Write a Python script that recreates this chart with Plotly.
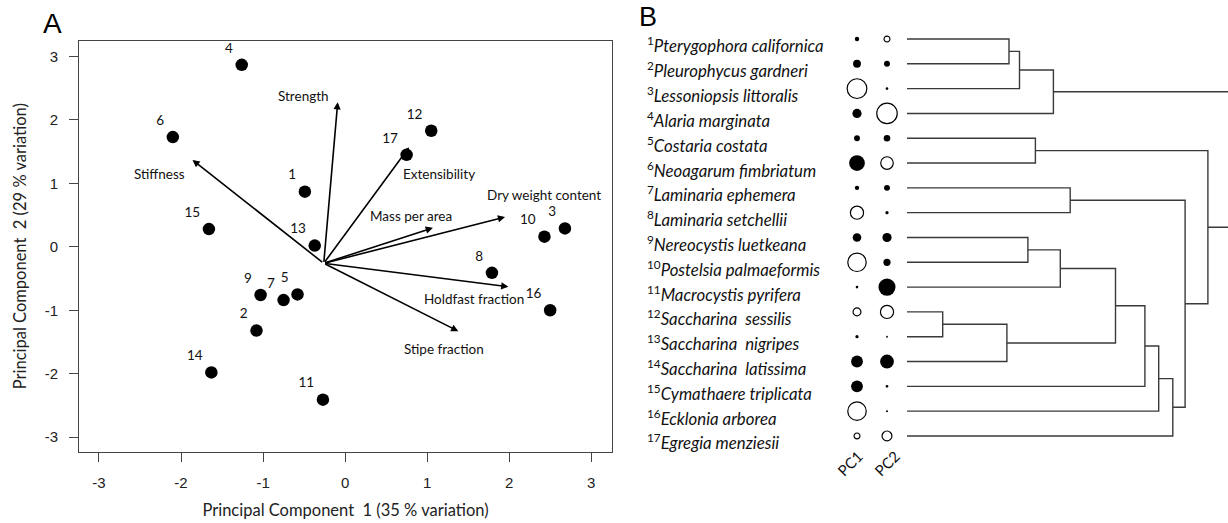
import plotly.graph_objects as go

# ---------------- Panel A: PCA biplot ----------------
species_ids = [str(i) for i in range(1, 18)]
pc1_scores = [-0.49, -1.08, 2.68, -1.26, -0.58, -2.10, -0.75, 1.79, -1.03,
              2.43, -0.27, 1.05, -0.37, -1.63, -1.66, 2.50, 0.75]
pc2_scores = [0.87, -1.32, 0.29, 2.87, -0.75, 1.73, -0.84, -0.41, -0.76,
              0.16, -2.41, 1.83, 0.02, -1.98, 0.28, -1.00, 1.45]

traits = ["Strength", "Stiffness", "Extensibility", "Mass per area",
          "Dry weight content", "Holdfast fraction", "Stipe fraction"]
arrow_origin = (-0.26, -0.26)
arrow_tip_x = [-0.09, -1.86, 0.78, 1.07, 1.95, 1.99, 1.38]
arrow_tip_y = [2.28, 1.37, 1.57, 0.30, 0.47, -0.63, -1.33]
trait_label_x = [-0.51, -2.26, 1.15, 0.80, 2.42, 1.57, 1.21]
trait_label_y = [2.38, 1.15, 1.15, 0.49, 0.81, -0.82, -1.61]

x_ticks = [-3, -2, -1, 0, 1, 2, 3]
y_ticks = [-3, -2, -1, 0, 1, 2, 3]

# ---------------- Panel B: species, PC bubbles, dendrogram ----------------
species_names = [
    "Pterygophora californica", "Pleurophycus gardneri", "Lessoniopsis littoralis",
    "Alaria marginata", "Costaria costata", "Neoagarum fimbriatum",
    "Laminaria ephemera", "Laminaria setchellii", "Nereocystis luetkeana",
    "Postelsia palmaeformis", "Macrocystis pyrifera", "Saccharina\u00a0 sessilis",
    "Saccharina\u00a0 nigripes", "Saccharina\u00a0 latissima", "Cymathaere triplicata",
    "Ecklonia arborea", "Egregia menziesii",
]
# signed bubble values (negative = filled, positive = open)
pc1_bubble = [-0.60, -1.08, 2.70, -1.26, -0.80, -2.16, -0.60, 1.80, -1.18,
              2.53, -0.36, 1.08, -0.45, -1.62, -1.62, 2.53, 0.81]
pc2_bubble = [0.81, -0.81, -0.36, 2.80, -0.90, 1.72, -0.81, -0.45, -1.26,
              -0.99, -2.34, 1.80, 0.10, -1.89, -0.36, -0.27, 1.35]
bubble_columns = ["PC1", "PC2"]

# linkage: (child_a, child_b, height); leaves are 1..17, new nodes numbered from 18
linkage = [
    (12, 13, 0.119),
    (1, 2, 0.340),
    (18, 14, 0.333),
    (19, 3, 0.375),
    (9, 10, 0.403),
    (5, 6, 0.428),
    (21, 4, 0.488),
    (22, 11, 0.511),
    (7, 8, 0.544),
    (25, 20, 0.695),
    (27, 15, 0.793),
    (28, 16, 0.839),
    (29, 17, 0.886),
    (26, 30, 0.927),
    (23, 31, 1.003),
    (24, 32, 1.100),
]

W, H = 1228, 523


def px(x):
    return x / W


def py(y):
    return 1 - y / H


LINE = "#3a3a3a"
fig = go.Figure()

# trait loading arrows
annotations = []
for tx, ty in zip(arrow_tip_x, arrow_tip_y):
    annotations.append(dict(
        x=tx, y=ty, ax=arrow_origin[0], ay=arrow_origin[1],
        xref="x", yref="y", axref="x", ayref="y", text="",
        showarrow=True, arrowhead=2, arrowsize=0.9, arrowwidth=1.6,
        arrowcolor="black", standoff=0,
    ))
for name, lx, ly in zip(traits, trait_label_x, trait_label_y):
    annotations.append(dict(
        x=lx, y=ly, xref="x", yref="y", text=name, showarrow=False,
        font=dict(family="Lato", size=13.5, color="#111"),
        xanchor="center", yanchor="middle",
    ))

# species scores
fig.add_trace(go.Scatter(
    x=pc1_scores, y=pc2_scores, mode="markers+text", text=species_ids,
    textposition="top left", textfont=dict(family="Lato", size=13.5, color="#111"),
    marker=dict(size=12.5, color="black", opacity=1), xaxis="x", yaxis="y",
    hoverinfo="skip", showlegend=False, cliponaxis=False,
))

# dendrogram
n_leaves = len(species_names)
node_y = {i: float(i) for i in range(1, n_leaves + 1)}
node_h = {i: 0.0 for i in range(1, n_leaves + 1)}
dx, dy = [], []
for k, (a, b, h) in enumerate(linkage):
    nid = n_leaves + 1 + k
    dx += [node_h[a], h, h, node_h[b], None]
    dy += [node_y[a], node_y[a], node_y[b], node_y[b], None]
    node_y[nid] = (node_y[a] + node_y[b]) / 2
    node_h[nid] = h
fig.add_trace(go.Scatter(
    x=dx, y=dy, mode="lines", line=dict(color=LINE, width=1.4),
    xaxis="x2", yaxis="y2", hoverinfo="skip", showlegend=False,
))

# PC bubbles
rows = list(range(1, n_leaves + 1))
for col, vals in enumerate([pc1_bubble, pc2_bubble]):
    sizes = [abs(v) * 7.3 for v in vals]
    fills = ["black" if v < 0 else "white" for v in vals]
    lines = [0 if v < 0 else 1.2 for v in vals]
    fig.add_trace(go.Scatter(
        x=[col] * n_leaves, y=rows, mode="markers",
        marker=dict(size=sizes, color=fills, opacity=1,
                    line=dict(color="black", width=lines)),
        xaxis="x3", yaxis="y2", hoverinfo="skip", showlegend=False,
    ))

# species labels
for i, name in enumerate(species_names, start=1):
    annotations.append(dict(
        x=px(645), y=i, xref="paper", yref="y2", yshift=-6,
        text=f"<sup>{i}</sup><i>{name}</i>", showarrow=False,
        font=dict(family="Lato", size=16.8, color="#111"),
        xanchor="left", yanchor="middle",
    ))

# column labels
for col, (lab, shift) in enumerate(zip(bubble_columns, [-7, 0])):
    annotations.append(dict(
        x=col, y=py(463), xref="x3", yref="paper", xshift=shift,
        text=lab, showarrow=False, textangle=-45,
        font=dict(family="Lato", size=15, color="#111"),
        xanchor="center", yanchor="middle",
    ))

# panel letters
annotations.append(dict(x=px(52), y=py(23), xref="paper", yref="paper", text="A",
                        showarrow=False, font=dict(family="Liberation Sans", size=28, color="black"),
                        xanchor="center", yanchor="middle"))
annotations.append(dict(x=px(647.5), y=py(17), xref="paper", yref="paper", text="B",
                        showarrow=False, font=dict(family="Liberation Sans", size=27, color="black"),
                        xanchor="center", yanchor="middle"))

axis_common = dict(
    showgrid=False, zeroline=False, showline=True, mirror=True,
    linecolor="#444", linewidth=1.3, ticks="outside", ticklen=9,
    tickcolor="#444", tickwidth=1.2,
    tickfont=dict(family="Liberation Sans", size=15, color="#222"),
)

fig.update_layout(
    width=W, height=H, margin=dict(l=0, r=0, t=0, b=0),
    paper_bgcolor="white", plot_bgcolor="white",
    xaxis=dict(
        domain=[px(79.3), px(611.7)], range=[-3.24, 3.25],
        tickvals=x_ticks, ticktext=[str(v) for v in x_ticks],
        ticklabelstandoff=8, anchor="y",
        title=dict(text="Principal Component \u00a01 (35 % variation)",
                   font=dict(family="Lato", size=16.5, color="#222"), standoff=14),
        **axis_common,
    ),
    yaxis=dict(
        domain=[py(451.7), py(40.7)], range=[-3.23, 3.25],
        tickvals=y_ticks, ticktext=[str(v) for v in y_ticks],
        ticklabelstandoff=8, anchor="x",
        title=dict(text="Principal Component \u00a02 (29 % variation)",
                   font=dict(family="Lato", size=16.5, color="#222"), standoff=14),
        **axis_common,
    ),
    xaxis2=dict(domain=[px(907), 1.0], range=[0, (W - 907) / 300], visible=False, anchor="y2"),
    yaxis2=dict(domain=[py(39 + 16.5 * 24.81), py(39 - 0.5 * 24.81)],
                range=[n_leaves + 0.5, 0.5], visible=False, anchor="x2"),
    xaxis3=dict(domain=[px(842), px(902)], range=[-0.5, 1.5], visible=False, anchor="y2"),
    annotations=annotations,
)

fig.write_html("out.html")
